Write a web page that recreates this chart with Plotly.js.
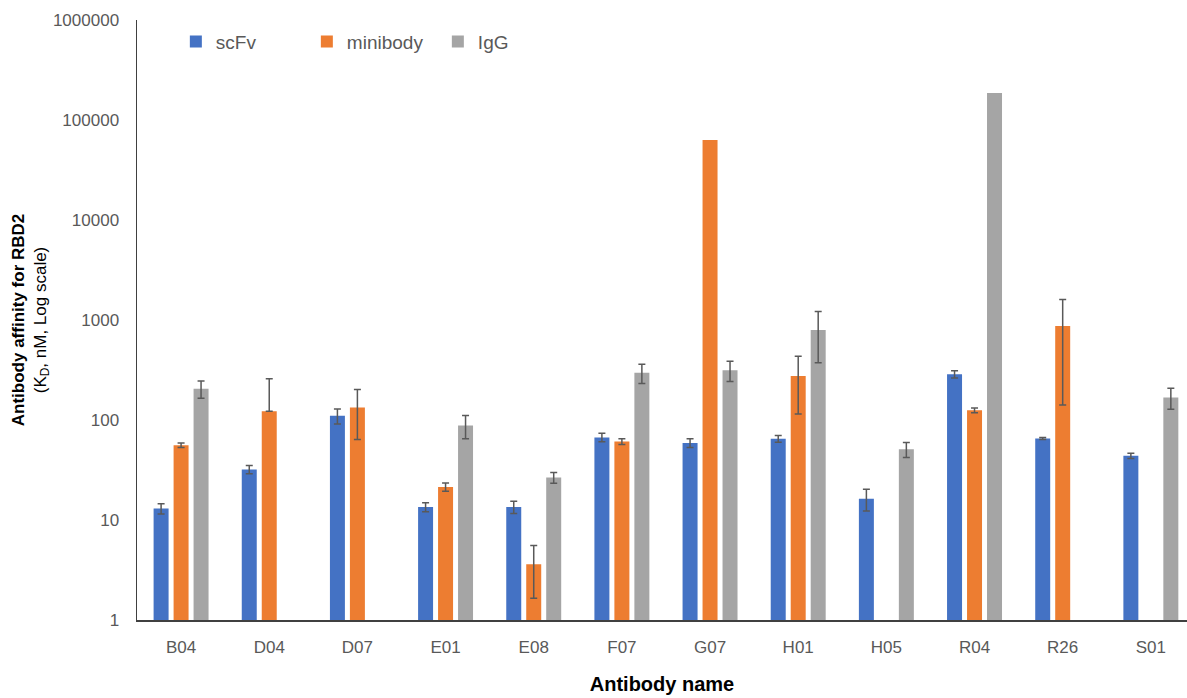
<!DOCTYPE html>
<html>
<head>
<meta charset="utf-8">
<script src="https://cdn.plot.ly/plotly-3.0.1.min.js"></script>
<style>html,body{margin:0;padding:0;background:#fff;}#chart{width:1187px;height:698px;}</style>
</head>
<body>
<div id="chart"></div>
<script>
const categories = ['B04','D04','D07','E01','E08','F07','G07','H01','H05','R04','R26','S01'];
const scFv      = [13, 32, 110, 13.5, 13.5, 67, 59, 65, 16.3, 287, 65.5, 43.8];
const scFvErr   = [1.5, 3, 19, 1.4, 1.9, 6.5, 6, 5, 4, 24, 1.5, 2.7];
const minibody  = [56, 122, 133, 21.4, 3.6, 61, 63000, 275, null, 125, 871, null];
const miniErrUp = [3, 136, 69, 2, 1.95, 4, undefined, 160, undefined, 7, 730, undefined];
const miniErrDn = [3, 0, 69, 2, 1.95, 4, undefined, 160, undefined, 7, 730, undefined];
const IgG       = [205, null, null, 88, 26.6, 297, 314, 793, 50.9, 186000, null, 168];
const IgGErr    = [40, undefined, undefined, 23, 3.3, 65, 72, 420, 8.7, undefined, undefined, 40];
const yTickVals = [1, 10, 100, 1000, 10000, 100000, 1000000];
const yTickText = ['1','10','100','1000','10000','100000','1000000'];

const FONT = 'Liberation Sans, Arial, Helvetica, sans-serif';
const errStyle = {color:'#595959', thickness:1.5, width:3.5};

const traces = [
  {type:'bar', name:'scFv', x:categories, y:scFv, marker:{color:'#4472C4'},
   error_y:Object.assign({type:'data', array:scFvErr, visible:true}, errStyle)},
  {type:'bar', name:'minibody', x:categories, y:minibody, marker:{color:'#ED7D31'},
   error_y:Object.assign({type:'data', symmetric:false, array:miniErrUp, arrayminus:miniErrDn, visible:true}, errStyle)},
  {type:'bar', name:'IgG', x:categories, y:IgG, marker:{color:'#A5A5A5'},
   error_y:Object.assign({type:'data', array:IgGErr, visible:true}, errStyle)}
];

const layout = {
  width:1187, height:698,
  margin:{l:137, r:0, t:20, b:78},
  paper_bgcolor:'#fff', plot_bgcolor:'#fff',
  font:{family:FONT, color:'#595959', size:17},
  barmode:'group', bargap:0.32, bargroupgap:0.25,
  showlegend:true,
  legend:{orientation:'h', x:0.037, y:0.964, xanchor:'left', yanchor:'middle',
          entrywidth:86, entrywidthmode:'pixels',
          font:{family:FONT, size:19, color:'#595959'}, bgcolor:'rgba(0,0,0,0)'},
  xaxis:{type:'category', range:[-0.5, 11.41], showline:true, linecolor:'#404040', linewidth:1.5,
         showgrid:false, zeroline:false, ticks:'', ticklabelstandoff:11,
         tickfont:{family:FONT, size:17, color:'#595959'},
         title:{text:'<b>Antibody name</b>', font:{family:FONT, size:20, color:'#000'}, standoff:21}},
  yaxis:{type:'log', range:[0, 6], showline:true, linecolor:'#404040', linewidth:1.5,
         showgrid:false, zeroline:false, ticks:'', tickmode:'array', tickvals:yTickVals, ticktext:yTickText,
         ticklabelstandoff:13, tickfont:{family:FONT, size:17, color:'#595959'},
         title:{text:'<b>Antibody affinity for RBD2</b><br>(K<sub>D</sub>, nM, Log scale)',
                font:{family:FONT, size:17, color:'#000'}, standoff:2}}
};

Plotly.newPlot('chart', traces, layout, {displayModeBar:false, staticPlot:true});
</script>
</body>
</html>
